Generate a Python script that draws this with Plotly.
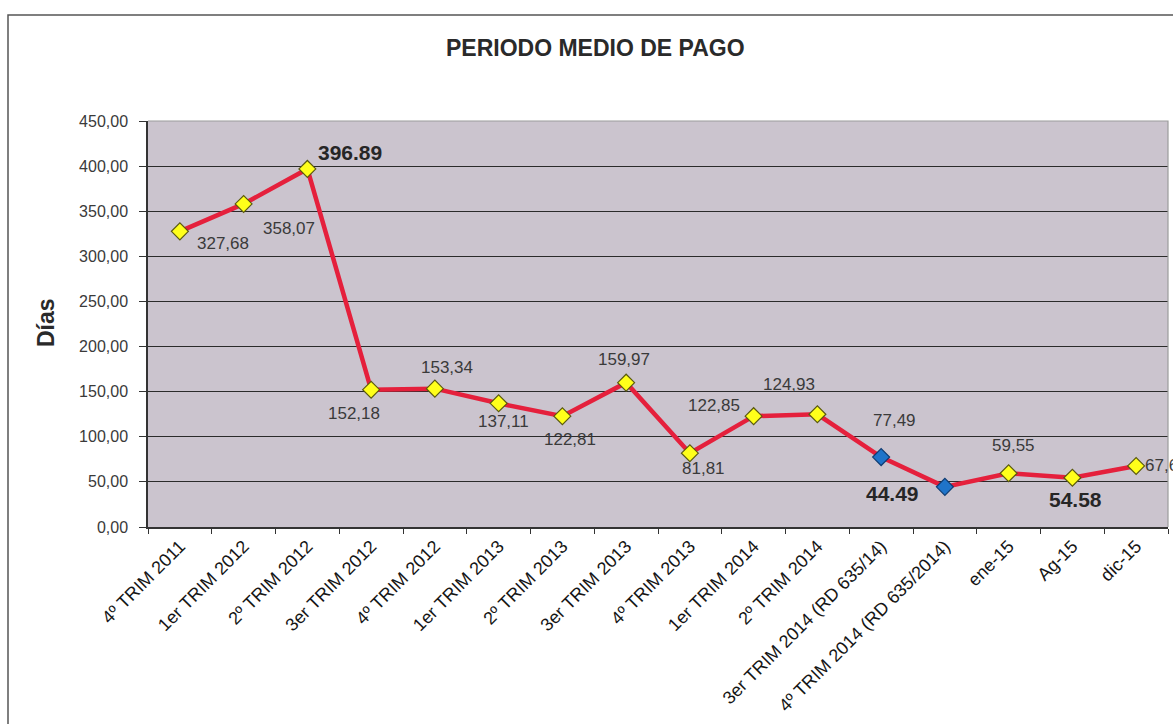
import plotly.graph_objects as go

# Periods and average payment period (days)
periodos = [
    "4º TRIM 2011", "1er TRIM 2012", "2º TRIM 2012", "3er TRIM 2012",
    "4º TRIM 2012", "1er TRIM 2013", "2º TRIM 2013", "3er TRIM 2013",
    "4º TRIM 2013", "1er TRIM 2014", "2º TRIM 2014",
    "3er TRIM 2014 (RD 635/14)", "4º TRIM 2014 (RD 635/2014)",
    "ene-15", "Ag-15", "dic-15",
]
dias = [327.68, 358.07, 396.89, 152.18, 153.34, 137.11, 122.81, 159.97,
        81.81, 122.85, 124.93, 77.49, 44.49, 59.55, 54.58, 67.69]

# Points drawn in blue (RD 635/2014 method)
rd_idx = [11, 12]
# Labels shown in bold with a decimal point
bold_idx = [2, 12, 14]

# Label offsets in pixels (dx, dy) relative to each point
label_offsets = [
    (43, 12), (45, 25), (43, -16), (-17, 24), (12, -21), (5, 18),
    (8, 23), (-2, -23), (14, 15), (-40, -11), (-28, -30), (13, -37),
    (-52, 7), (5, -28), (3, 22), (30, 0),
]

W, H = 1173, 724
L, R, T, B = 148, 5, 121, 197
pw, ph = W - L - R, H - T - B
FONT = "Liberation Sans, Arial"


def px_x(x):
    return (x - L) / pw


def px_y(y):
    return (H - B - y) / ph


marker_colors = ["#1f74c9" if i in rd_idx else "#ffff1a" for i in range(len(dias))]
marker_lines = ["#0d3c73" if i in rd_idx else "#5a5a10" for i in range(len(dias))]

fig = go.Figure()
fig.add_trace(go.Scatter(
    x=periodos, y=dias, mode="lines+markers",
    line=dict(color="#e5203c", width=4.5),
    marker=dict(symbol="diamond", size=13, color=marker_colors,
                line=dict(color=marker_lines, width=1.2)),
    showlegend=False, hoverinfo="x+y",
))

annotations = []
for i, (p, v) in enumerate(zip(periodos, dias)):
    dx, dy = label_offsets[i]
    if i in bold_idx:
        txt = "<b>" + f"{v:.2f}" + "</b>"
        font = dict(family=FONT, size=21, color="#262626")
    else:
        txt = f"{v:.2f}".replace(".", ",")
        font = dict(family=FONT, size=17, color="#3a3a3a")
    annotations.append(dict(
        x=p, y=v, xref="x", yref="y", text=txt, showarrow=False,
        xanchor="center", yanchor="middle",
        xshift=dx, yshift=-dy, font=font,
    ))

annotations.append(dict(
    x=px_x(595), y=px_y(48), xref="paper", yref="paper",
    xanchor="center", yanchor="middle",
    text="<b>PERIODO MEDIO DE PAGO</b>", showarrow=False,
    font=dict(family=FONT, size=23, color="#2a2a2a"),
))
annotations.append(dict(
    x=px_x(46), y=px_y(323), xref="paper", yref="paper",
    xanchor="center", yanchor="middle",
    text="<b>Días</b>", showarrow=False, textangle=-90,
    font=dict(family=FONT, size=23, color="#2a2a2a"),
))

shapes = [
    # outer chart frame (left and top)
    dict(type="path", xref="paper", yref="paper",
         path=f"M {px_x(8)},{px_y(724)} L {px_x(8)},{px_y(15)} L {px_x(1175)},{px_y(15)}",
         line=dict(color="#555555", width=1.5)),
    # light border on top and right of plot area
    dict(type="path", xref="paper", yref="paper", layer="above",
         path="M 0,1 L 1,1 L 1,0",
         line=dict(color="#9c9c9c", width=1.2)),
]

fig.update_layout(
    width=W, height=H,
    margin=dict(l=L, r=R, t=T, b=B),
    paper_bgcolor="white",
    plot_bgcolor="#cbc4ce",
    separators=",.",
    annotations=annotations,
    shapes=shapes,
    font=dict(family=FONT, color="#333333"),
)
fig.update_xaxes(
    type="category", range=[-0.5, len(periodos) - 0.5],
    tickangle=-45, tickson="boundaries", ticks="outside", ticklen=5,
    tickcolor="#333333", showgrid=False, showline=True,
    linecolor="#333333", linewidth=1.5,
    tickfont=dict(family=FONT, size=18, color="#151515"),
)
fig.update_yaxes(
    range=[0, 450], dtick=50, tickformat=".2f",
    ticks="outside", ticklen=7, tickcolor="#333333",
    ticklabelstandoff=8,
    showgrid=True, gridcolor="#2b2b2b", gridwidth=1.3,
    showline=True, linecolor="#333333", linewidth=1.5,
    zeroline=False,
    tickfont=dict(family=FONT, size=16, color="#3a3a3a"),
)

fig.write_html("out.html")
